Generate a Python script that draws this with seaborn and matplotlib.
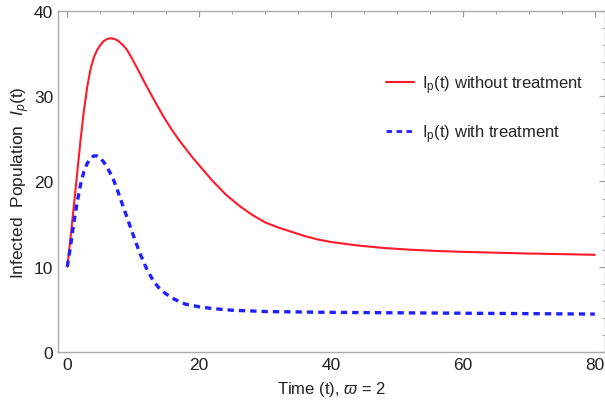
import matplotlib
matplotlib.use("Agg")
import matplotlib.pyplot as plt
import seaborn as sns
import pandas as pd
from matplotlib.ticker import MultipleLocator

# Values
t_without = [0, 0.5, 1, 1.5, 2, 2.5, 3, 3.5, 4, 4.5, 5, 5.5, 6, 6.5, 7, 7.5, 8, 8.5, 9,
             9.5, 10, 11, 12, 13, 14, 15, 16, 17, 18, 19, 20, 22, 24, 26, 28, 30, 32,
             34, 36, 38, 40, 44, 48, 52, 56, 60, 65, 70, 75, 80]
ip_without = [10, 13.5, 17.2, 21.0, 24.8, 28.2, 31.0, 33.1, 34.5, 35.4, 36.0, 36.45, 36.7,
              36.8, 36.75, 36.6, 36.3, 35.95, 35.5, 34.85, 34.15, 32.7, 31.2, 29.8, 28.4,
              27.1, 25.9, 24.8, 23.8, 22.8, 21.9, 20.1, 18.5, 17.2, 16.1, 15.2, 14.6,
              14.1, 13.6, 13.2, 12.9, 12.5, 12.2, 12.0, 11.85, 11.75, 11.65, 11.55,
              11.48, 11.4]

t_with = [0, 0.5, 1, 1.5, 2, 2.5, 3, 3.5, 4, 4.5, 5, 5.5, 6, 6.5, 7, 7.5, 8, 8.5, 9,
          9.5, 10, 11, 12, 13, 14, 15, 16, 17, 18, 20, 22, 25, 30, 40, 50, 60, 70, 80]
ip_with = [10, 12.5, 15.2, 17.6, 19.6, 21.1, 22.1, 22.7, 23.0, 23.0, 22.75, 22.3, 21.7,
           21.0, 20.2, 19.2, 18.1, 17.0, 15.9, 14.8, 13.7, 11.6, 9.8, 8.4, 7.4, 6.8,
           6.3, 5.9, 5.6, 5.3, 5.1, 4.9, 4.75, 4.65, 4.6, 4.55, 4.5, 4.45]

label_without = r"I$_{\mathregular{p}}$(t) without treatment"
label_with = r"I$_{\mathregular{p}}$(t) with treatment"

df = pd.concat([
    pd.DataFrame({"t": t_without, "Ip": ip_without, "case": label_without}),
    pd.DataFrame({"t": t_with, "Ip": ip_with, "case": label_with}),
])

sns.set_style("white")
plt.rcParams["font.family"] = ["Liberation Sans", "DejaVu Sans"]
plt.rcParams["mathtext.fontset"] = "custom"
plt.rcParams["mathtext.rm"] = "Liberation Sans"
plt.rcParams["mathtext.it"] = "Liberation Sans:italic"

fig = plt.figure(figsize=(6.05, 4.06), dpi=100)
ax = fig.add_axes([0.096, 0.1305, 0.9035, 0.84])

sns.lineplot(data=df, x="t", y="Ip", hue="case", style="case",
             palette={label_without: "#ff1a2a", label_with: "#2020ff"},
             dashes={label_without: "", label_with: (2, 1.5)},
             sort=False, ax=ax)
ax.lines[0].set_linewidth(1.5)
ax.lines[1].set_linewidth(2.4)
ax.lines[1].set_dashes((1.9, 1.5))

ax.set_xlim(-1.4, 81.5)
ax.set_ylim(0, 40)
ax.xaxis.set_major_locator(MultipleLocator(20))
ax.xaxis.set_minor_locator(MultipleLocator(5))
ax.yaxis.set_major_locator(MultipleLocator(10))
ax.yaxis.set_minor_locator(MultipleLocator(2))
ax.tick_params(which="both", direction="in", top=True, right=True, colors="#999999",
               labelcolor="#222222", labelsize=12.5)
ax.tick_params(which="major", length=4, width=0.8)
ax.tick_params(which="minor", length=2, width=0.6)
for s in ax.spines.values():
    s.set_color("#aaaaaa")
    s.set_linewidth(1.0)

ax.set_xlabel(r"Time (t), $\varpi$ = 2", fontsize=12, color="#222222", labelpad=5)
ax.set_ylabel(r"Infected  Population  $I_p$(t)", fontsize=12.5, color="#222222", labelpad=1)

handles, labels = ax.get_legend_handles_labels()
handles[0].set_linewidth(1.5)
handles[1].set_linewidth(2.0)
handles[1].set_dashes((2.0, 1.6))
ax.legend(handles, labels, loc="center left", bbox_to_anchor=(0.60, 0.713),
          frameon=False, fontsize=12, handlelength=1.7, handletextpad=0.45,
          labelspacing=1.6, borderpad=0, borderaxespad=0)

fig.savefig("out.png", dpi=100)
